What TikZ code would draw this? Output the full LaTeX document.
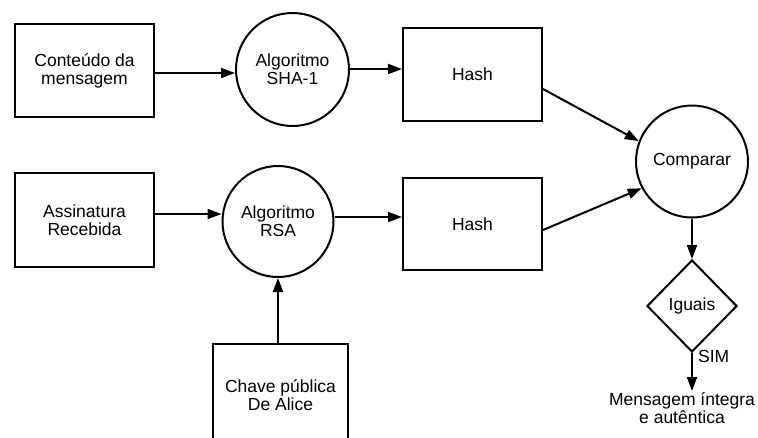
\documentclass[tikz,border=0pt]{standalone}
\usepackage{fontspec}
\setmainfont{Liberation Sans}
\usetikzlibrary{arrows.meta,shapes.geometric}
\tikzset{
  txt/.style={font=\fontsize{17.5}{18}\selectfont, align=center, inner sep=0pt},
  box/.style={draw, line width=2pt, rectangle, txt, minimum width=139pt, minimum height=93pt},
  proc/.style={draw, line width=2pt, circle, txt},
  decide/.style={draw, line width=2pt, diamond, txt, minimum width=90pt, minimum height=92pt},
  flow/.style={line width=2pt, -{Triangle[length=14pt,width=10pt]}},
}
\begin{document}
\begin{tikzpicture}[x=1pt,y=-1pt]
\path[use as bounding box] (0,0) rectangle (758,437);
\clip (0,0) rectangle (758,437);

% first row: message digest
\node[box] (msg) at (84.5,70.5) {Conteúdo da\\mensagem};
\node[proc, minimum size=113pt] (sha) at (292.5,69.5) {Algoritmo\\SHA-1};
\node[box] (hash1) at (472.5,74.5) {Hash};

% second row: signature decryption
\node[box, minimum height=94pt] (sig) at (84.5,220) {Assinatura\\Recebida};
\node[proc, minimum size=111pt] (rsa) at (278,221.5) {Algoritmo\\RSA};
\node[box, minimum height=92pt] (hash2) at (472.5,224) {Hash};

% public key box, running off the lower edge
\node[draw, line width=2pt, rectangle, minimum width=135pt, minimum height=136pt] (key) at (280.5,412) {};
\node[txt] (keytxt) at (280.5,395) {Chave pública\\De Alice};

% comparison and decision
\node[proc, minimum size=112pt] (cmp) at (692,161.5) {Comparar};
\node[decide] (eq) at (692,306) {Iguais};
\node[txt, anchor=north, inner sep=1pt] (res) at (682,391) {Mensagem íntegra\\e autêntica};
\node[txt, anchor=west] (sim) at (698,356) {SIM};

% connectors
\draw[flow] ([yshift=-2.5pt]msg.east) -- ([yshift=-2.5pt]msg.east -| sha.west);
\draw[flow] ([yshift=0.5pt]sha.east) -- ([yshift=0.5pt]sha.east -| hash1.west);
\draw[flow] ([yshift=-14.5pt]hash1.east) -- (cmp.159);
\draw[flow] ([yshift=6pt]sig.east) -- ([yshift=6pt]sig.east -| rsa.west);
\draw[flow] ([yshift=4.5pt]rsa.east) -- ([yshift=4.5pt]rsa.east -| hash2.west);
\draw[flow] ([yshift=-6pt]hash2.east) -- (cmp.208);
\draw[flow] (key.north -| rsa.south) -- (rsa.south);
\draw[flow] (cmp.south) -- (eq.north);
\draw[flow] (eq.south) -- (eq.south |- res.north);
\end{tikzpicture}
\end{document}
